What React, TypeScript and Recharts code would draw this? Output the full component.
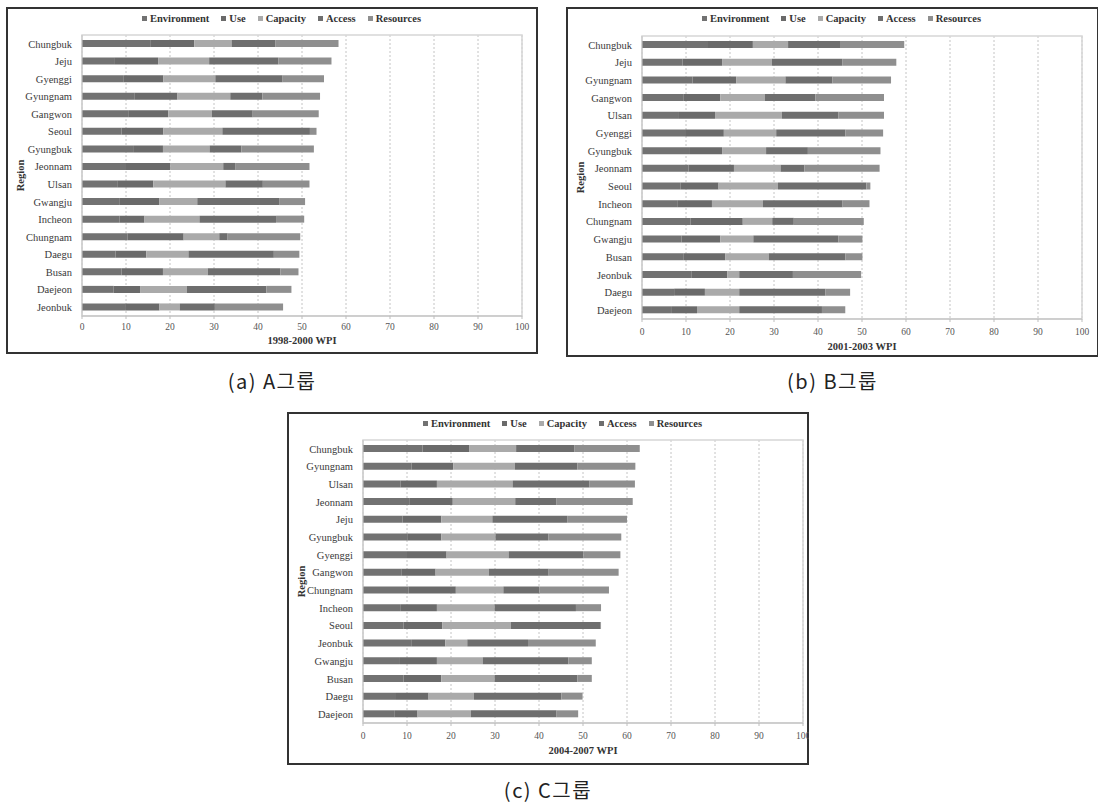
import React from 'react';
import { BarChart, Bar, XAxis, YAxis, CartesianGrid, ReferenceArea } from 'recharts';

// ---- series & axis ----
const seriesKeys = ['environment', 'use', 'capacity', 'access', 'resources'];
const seriesNames = ['Environment', 'Use', 'Capacity', 'Access', 'Resources'];
const wpiTicks = [0, 10, 20, 30, 40, 50, 60, 70, 80, 90, 100];

// ---- 1998-2000 WPI (A group) ----
const regionsA = ['Chungbuk', 'Jeju', 'Gyenggi', 'Gyungnam', 'Gangwon', 'Seoul', 'Gyungbuk', 'Jeonnam', 'Ulsan', 'Gwangju', 'Incheon', 'Chungnam', 'Daegu', 'Busan', 'Daejeon', 'Jeonbuk'];
const environmentA = [15.5, 7.3, 9.5, 12.0, 10.5, 9.0, 11.8, 10.0, 8.0, 8.6, 8.5, 10.3, 7.6, 9.0, 7.2, 9.8];
const useA = [10.0, 10.0, 9.0, 9.7, 9.1, 9.5, 6.6, 10.1, 8.2, 9.0, 5.7, 12.8, 7.0, 9.4, 6.1, 7.8];
const capacityA = [8.5, 11.6, 11.8, 12.0, 9.9, 13.4, 10.6, 12.0, 16.4, 8.6, 12.5, 8.1, 9.6, 10.2, 10.5, 4.6];
const accessA = [10.0, 15.7, 15.3, 7.3, 9.3, 19.9, 7.2, 2.7, 8.5, 18.6, 17.4, 1.9, 19.4, 16.5, 18.1, 8.0];
const resourcesA = [14.3, 12.1, 9.4, 13.1, 15.0, 1.5, 16.5, 16.9, 10.6, 5.9, 6.4, 16.5, 5.8, 4.1, 5.7, 15.5];

// ---- 2001-2003 WPI (B group) ----
const regionsB = ['Chungbuk', 'Jeju', 'Gyungnam', 'Gangwon', 'Ulsan', 'Gyenggi', 'Gyungbuk', 'Jeonnam', 'Seoul', 'Incheon', 'Chungnam', 'Gwangju', 'Busan', 'Jeonbuk', 'Daegu', 'Daejeon'];
const environmentB = [15.0, 9.2, 11.5, 9.5, 8.4, 10.0, 10.7, 10.6, 8.8, 8.0, 11.0, 9.0, 9.5, 11.2, 7.3, 6.8];
const useB = [10.2, 9.0, 9.9, 8.3, 8.2, 8.6, 7.5, 10.3, 8.6, 7.9, 11.9, 8.8, 9.4, 8.2, 7.0, 5.7];
const capacityB = [8.0, 11.3, 11.2, 10.1, 15.2, 11.9, 10.0, 10.6, 13.5, 11.6, 6.7, 7.5, 9.9, 2.7, 7.8, 9.6];
const accessB = [11.8, 16.0, 10.7, 11.5, 12.8, 15.7, 9.5, 5.4, 20.1, 18.1, 4.9, 19.3, 17.4, 12.2, 19.6, 18.8];
const resourcesB = [14.6, 12.3, 13.3, 15.6, 10.4, 8.6, 16.5, 17.1, 0.9, 6.1, 15.9, 5.5, 3.9, 15.5, 5.6, 5.3];

// ---- 2004-2007 WPI (C group) ----
const regionsC = ['Chungbuk', 'Gyungnam', 'Ulsan', 'Jeonnam', 'Jeju', 'Gyungbuk', 'Gyenggi', 'Gangwon', 'Chungnam', 'Incheon', 'Seoul', 'Jeonbuk', 'Gwangju', 'Busan', 'Daegu', 'Daejeon'];
const environmentC = [13.5, 11.0, 8.5, 10.5, 9.0, 10.2, 10.0, 8.7, 10.3, 8.6, 9.2, 11.1, 8.4, 9.2, 7.5, 7.1];
const useC = [10.7, 9.5, 8.3, 9.9, 8.8, 7.6, 9.0, 7.8, 10.8, 8.2, 8.8, 7.6, 8.4, 8.6, 7.4, 5.3];
const capacityC = [10.6, 14.0, 17.2, 14.2, 11.6, 12.3, 14.1, 12.1, 10.8, 13.1, 15.6, 5.0, 10.4, 12.1, 10.3, 12.1];
const accessC = [13.2, 14.2, 17.5, 9.3, 17.0, 12.0, 17.0, 13.6, 8.2, 18.5, 20.3, 13.8, 19.5, 18.8, 19.9, 19.5];
const resourcesC = [14.9, 13.2, 10.3, 17.4, 13.6, 16.6, 8.4, 15.9, 15.8, 5.7, 0.2, 15.4, 5.3, 3.3, 4.8, 4.9];

// ---- styling ----
const seriesColors = ['#727272', '#6a6a6a', '#aaaaaa', '#6e6e6e', '#8f8f8f'];
const SERIF = '"Liberation Serif", "DejaVu Serif", serif';
const SANS_KR = '"Noto Sans CJK KR", "Noto Sans", sans-serif';

function buildRows(regions: string[], cols: number[][]) {
  return regions.map((region, i) => {
    const row: Record<string, string | number> = { region };
    seriesKeys.forEach((k, j) => {
      row[k] = cols[j][i];
    });
    return row;
  });
}

const rowsA = buildRows(regionsA, [environmentA, useA, capacityA, accessA, resourcesA]);
const rowsB = buildRows(regionsB, [environmentB, useB, capacityB, accessB, resourcesB]);
const rowsC = buildRows(regionsC, [environmentC, useC, capacityC, accessC, resourcesC]);

function XTitle(props: any) {
  const { viewBox, titleText, titleDy } = props;
  if (!viewBox) return null;
  const x = viewBox.x + viewBox.width / 2;
  const y = viewBox.y + titleDy;
  return (
    <text x={x} y={y} textAnchor="middle" dominantBaseline="central" style={{ fontFamily: SERIF }} fontWeight="bold" fontSize={10.5} fill="#333">
      {titleText}
    </text>
  );
}

function RegionTitle(props: any) {
  const { viewBox, titleDx } = props;
  if (!viewBox) return null;
  const x = viewBox.x + titleDx;
  const y = viewBox.y + viewBox.height / 2;
  return (
    <text x={x} y={y} transform={`rotate(-90 ${x} ${y})`} textAnchor="middle" dominantBaseline="central" style={{ fontFamily: SERIF }} fontWeight="bold" fontSize={10.5} fill="#333">
      Region
    </text>
  );
}

function Legend5() {
  return (
    <div style={{ display: 'flex', alignItems: 'center', fontFamily: SERIF, fontWeight: 'bold', fontSize: 10.5, color: '#333', whiteSpace: 'nowrap' }}>
      {seriesNames.map((name, i) => (
        <div key={name} style={{ display: 'flex', alignItems: 'center', marginRight: i < seriesNames.length - 1 ? 12 : 0 }}>
          <span style={{ display: 'inline-block', width: 5, height: 5, background: seriesColors[i], marginRight: 3 }} />
          <span>{name}</span>
        </div>
      ))}
    </div>
  );
}

type PanelProps = {
  rows: Record<string, string | number>[];
  title: string;
  caption: string;
  left: number;
  top: number;
  width: number;
  height: number;
  plotTop: number;
  axisHeight: number;
  tickMargin: number;
  titleDy: number;
  captionY: number;
};

function Panel(p: PanelProps) {
  const yAxisWidth = 76;
  const plotWidth = 440;
  return (
    <>
      <div style={{ position: 'absolute', left: p.left, top: p.top, width: p.width, height: p.height, boxSizing: 'border-box', border: '2px solid #333' }} />
      <div style={{ position: 'absolute', left: p.left + 136, top: p.top + 6 }}>
        <Legend5 />
      </div>
      <div style={{ position: 'absolute', left: p.left, top: p.top, fontFamily: SERIF }}>
        <BarChart
          width={p.width}
          height={p.height}
          data={p.rows}
          layout="vertical"
          margin={{ top: p.plotTop, right: p.width - yAxisWidth - plotWidth, bottom: 0, left: 0 }}
          barSize={7}
          style={{ fontFamily: SERIF }}
        >
          <CartesianGrid horizontal={false} stroke="#c4c4c4" strokeDasharray="2 2" />
          <ReferenceArea x1={0} x2={100} fill="none" stroke="#d6d6d6" strokeWidth={1.5} ifOverflow="visible" />
          <XAxis
            type="number"
            domain={[0, 100]}
            ticks={wpiTicks}
            interval={0}
            height={p.axisHeight}
            axisLine={{ stroke: '#bdbdbd' }}
            tickLine={{ stroke: '#bdbdbd' }}
            tickSize={3}
            tickMargin={p.tickMargin}
            tick={{ fontSize: 9.5, fill: '#555', fontFamily: SERIF }}
            label={<XTitle titleText={p.title} titleDy={p.titleDy} />}
          />
          <YAxis
            type="category"
            dataKey="region"
            width={yAxisWidth}
            interval={0}
            axisLine={{ stroke: '#c8c8c8' }}
            tickLine={false}
            tickSize={4}
            tickMargin={6}
            tick={{ fontSize: 10.5, fill: '#3a3a3a', fontFamily: SERIF }}
            label={<RegionTitle titleDx={14} />}
          />
          {seriesKeys.map((k, i) => (
            <Bar key={k} dataKey={k} name={seriesNames[i]} stackId="wpi" fill={seriesColors[i]} isAnimationActive={false} />
          ))}
        </BarChart>
      </div>
      <div
        style={{
          position: 'absolute',
          left: p.left + p.width / 2,
          top: p.captionY,
          transform: 'translate(-50%, -50%)',
          fontFamily: SANS_KR,
          fontSize: 20,
          letterSpacing: 1.5,
          color: '#222',
          whiteSpace: 'nowrap',
        }}
      >
        {p.caption}
      </div>
    </>
  );
}

export default function App() {
  return (
    <div style={{ position: 'absolute', left: 0, top: 0, width: 1098, height: 802, overflow: 'hidden', background: '#fff', fontFamily: SERIF }}>
      <Panel rows={rowsA} title="1998-2000 WPI" caption="(a) A그룹" left={6} top={7} width={532} height={347} plotTop={28} axisHeight={38} tickMargin={4.5} titleDy={24} captionY={380} />
      <Panel rows={rowsB} title="2001-2003 WPI" caption="(b) B그룹" left={566} top={7} width={533} height={350} plotTop={29} axisHeight={38} tickMargin={6.5} titleDy={27} captionY={380} />
      <Panel rows={rowsC} title="2004-2007 WPI" caption="(c) C그룹" left={287} top={412} width={522} height={353} plotTop={28} axisHeight={42} tickMargin={6.5} titleDy={27} captionY={789} />
    </div>
  );
}
